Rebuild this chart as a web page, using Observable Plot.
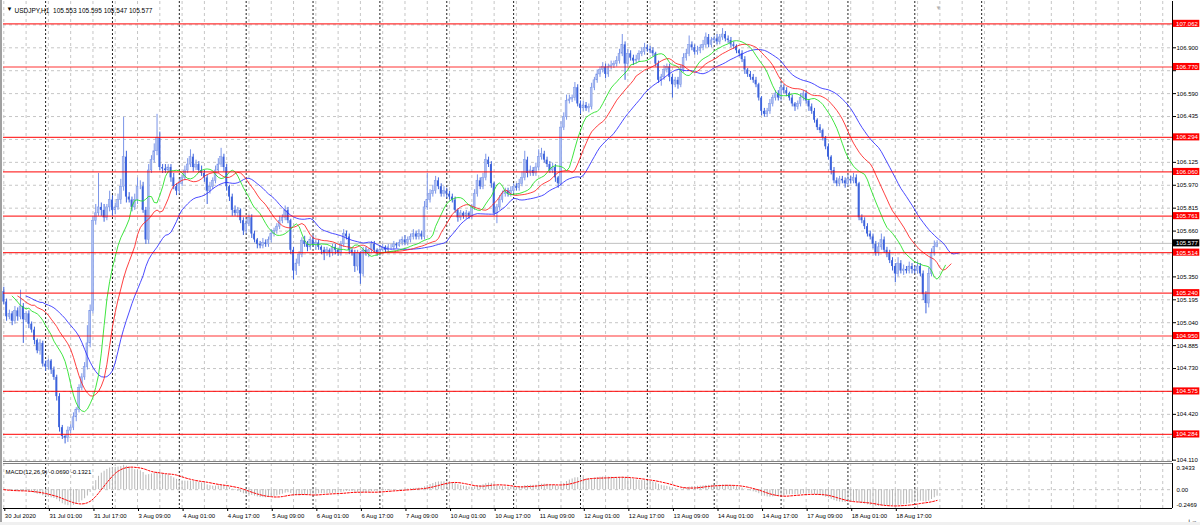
<!DOCTYPE html>
<html><head><meta charset="utf-8">
<script src="https://cdn.jsdelivr.net/npm/d3@7"></script>
<script src="https://cdn.jsdelivr.net/npm/@observablehq/plot@0.6"></script>
<style>
html,body{margin:0;padding:0;background:#fff;}
#wrap{position:relative;width:1200px;height:525px;overflow:hidden;background:#fff;font-family:"Liberation Sans",Arial,sans-serif;}
#main{position:absolute;left:0;top:0;}
#sub{position:absolute;left:0;top:461px;}
#foot{position:absolute;left:0;top:522px;width:1200px;height:3px;background:#f0f0f0;}
#lb{position:absolute;left:0;top:0;width:2px;height:522px;background:#a0a0a0;}
svg{overflow:visible}
</style></head><body><div id="wrap"><div id="main"></div><div id="sub"></div><div id="foot"></div><div id="lb"></div></div>
<script>
// ---------- data ----------
const symbolTitle = "USDJPY,H1";
const headerOHLC = ["105.553", "105.595", "105.547", "105.577"];
const macdTitle = "MACD(12,26,9) -0.0690 -0.1321";
const firstOpen = 105.25;
const closes = [
105.18,105.08,105.10,105.05,105.12,105.08,105.15,105.06,105.10,105.03,
104.99,104.92,104.85,104.90,104.76,104.74,104.78,104.72,104.67,104.54,
104.33,104.27,104.26,104.31,104.33,104.40,104.45,104.60,104.67,104.74,
104.90,105.12,105.73,105.78,105.82,105.80,105.75,105.82,105.87,105.80,
105.82,105.87,105.96,106.16,105.89,105.87,105.82,105.87,105.96,105.96,
105.80,105.60,106.07,106.14,106.20,106.29,106.09,106.08,106.07,106.09,
106.02,105.96,105.93,105.98,106.02,106.07,106.11,106.16,106.09,106.11,
106.07,106.05,106.02,105.93,105.96,106.00,106.07,106.11,106.16,106.09,
105.96,105.89,105.80,105.78,105.80,105.73,105.66,105.71,105.75,105.64,
105.60,105.57,105.56,105.58,105.57,105.60,105.64,105.66,105.69,105.73,
105.75,105.80,105.73,105.53,105.39,105.44,105.50,105.595,105.57,105.55,
105.60,105.57,105.58,105.55,105.53,105.51,105.53,105.51,105.55,105.53,
105.51,105.57,105.64,105.62,105.53,105.51,105.42,105.51,105.37,105.53,
105.51,105.53,105.57,105.53,105.51,105.53,105.55,105.53,105.55,105.55,
105.57,105.56,105.58,105.60,105.58,105.60,105.62,105.64,105.62,105.64,
105.62,105.82,105.87,105.91,105.93,106.00,105.96,105.91,105.93,105.91,
105.89,105.87,105.80,105.75,105.78,105.76,105.78,105.76,105.82,105.91,
106.00,105.96,106.02,106.14,106.11,105.98,105.78,105.82,105.87,105.91,
105.93,105.91,105.93,105.96,105.95,105.98,106.02,106.14,106.05,106.07,
106.05,106.09,106.16,106.18,106.14,106.11,106.07,106.09,106.02,105.98,
106.36,106.43,106.54,106.55,106.56,106.63,106.52,106.49,106.51,106.49,
106.50,106.63,106.68,106.72,106.75,106.77,106.72,106.77,106.78,106.79,
106.81,106.86,106.92,106.79,106.86,106.83,106.81,106.82,106.86,106.87,
106.90,106.89,106.88,106.86,106.79,106.68,106.70,106.75,106.77,106.70,
106.65,106.68,106.65,106.75,106.83,106.86,106.92,106.90,106.87,106.88,
106.90,106.92,106.97,106.92,106.95,106.96,106.94,106.97,106.99,106.96,
106.95,106.92,106.91,106.88,106.86,106.82,106.75,106.72,106.70,106.68,
106.65,106.56,106.47,106.45,106.47,106.52,106.56,106.59,106.56,106.63,
106.61,106.59,106.56,106.52,106.50,106.52,106.56,106.59,106.54,106.50,
106.47,106.41,106.36,106.34,106.29,106.23,106.16,106.07,106.00,105.98,
106.01,106.00,105.98,106.01,106.00,106.02,105.98,105.75,105.73,105.69,
105.64,105.62,105.57,105.51,105.55,105.60,105.53,105.51,105.46,105.42,
105.37,105.44,105.39,105.40,105.39,105.42,105.40,105.39,105.42,105.37,
105.23,105.17,105.37,105.51,105.553,105.577];
// wick lengths above / below the body, in points (0.001)
const upWick = [
30,20,25,15,30,20,110,20,15,20, 15,20,10,25,15,20,15,10,20,15,
20,15,10,25,20,30,15,20,25,30, 120,40,30,60,230,30,40,20,60,30,
30,40,50,270,40,30,20,40,60,40, 30,20,40,30,50,160,40,20,30,20,
20,30,20,30,20,30,40,50,20,30, 20,30,20,20,30,20,30,40,60,20,
20,10,20,30,20,10,20,30,20,20, 20,10,20,30,20,20,30,20,20,30,
20,30,20,10,20,30,20,20,30,20, 20,30,20,20,10,20,20,10,20,20,
10,20,30,20,20,10,20,20,10,20, 20,10,20,20,10,20,20,10,20,20,
20,10,20,20,30,20,20,30,20,30, 20,40,180,30,40,30,20,20,30,20,
20,20,20,10,20,10,20,10,20,30, 40,20,30,40,20,20,10,20,30,20,
20,20,30,20,20,30,40,60,20,30, 20,30,50,40,20,20,20,30,20,10,
40,30,40,30,20,35,20,20,30,20, 20,30,20,30,20,30,20,20,30,20,
30,30,70,20,30,20,20,30,20,30, 30,20,20,20,10,20,20,30,20,20,
20,20,20,30,30,30,60,20,20,30, 20,30,30,20,20,20,30,20,40,20,
20,20,20,10,10,20,20,10,20,20, 20,10,10,20,20,30,20,20,20,30,
20,20,10,20,10,20,30,20,20,10, 20,20,10,20,10,10,20,10,20,20,
20,20,20,30,20,30,20,10,20,20, 20,20,20,20,30,40,20,20,20,20,
20,40,20,30,20,30,20,20,30,20, 20,20,40,30,40,18];
const downWick = [
20,30,20,30,20,30,20,160,20,30, 20,30,20,30,20,30,20,30,20,30,
30,20,40,30,20,20,30,20,20,20, 20,30,20,30,20,40,30,20,30,40,
30,20,30,30,40,20,30,20,30,20, 20,30,30,20,20,30,20,30,20,20,
30,20,30,20,20,20,20,20,30,20, 20,20,30,90,20,20,20,20,20,30,
30,30,40,20,30,20,30,20,20,30, 20,30,20,20,20,20,20,20,20,20,
20,20,20,30,60,30,20,20,20,30, 20,20,40,20,30,50,20,30,20,30,
20,20,20,20,30,20,40,30,70,20, 20,30,20,20,20,20,10,20,20,20,
20,20,10,20,20,20,20,20,20,20, 20,20,20,20,20,20,20,20,20,30,
20,20,20,30,20,20,20,20,20,20, 20,20,20,20,20,30,20,70,20,20,
20,20,20,20,20,20,20,20,30,20, 20,20,20,20,20,20,20,20,30,30,
20,20,20,20,20,20,20,40,20,20, 30,20,20,20,20,20,30,20,20,20,
20,20,20,110,20,20,30,20,20,20, 20,20,20,20,20,20,40,20,20,30,
90,20,30,20,20,20,20,20,20,20, 20,20,20,20,20,20,20,20,20,20,
20,20,20,20,20,20,30,20,20,20, 20,20,30,20,20,20,20,20,20,20,
20,20,20,20,30,20,20,20,20,30, 20,20,20,20,20,20,20,30,20,20,
20,20,30,20,20,20,20,20,20,20, 20,20,30,20,20,20,20,30,20,30,
60,20,20,30,20,20,30,20,20,20, 40,70,30,20,20,6];
const levels = [107.062, 106.770, 106.294, 106.060, 105.761, 105.514, 105.240, 104.950, 104.575, 104.284];
const currentPrice = 105.577;
const priceTicks = [104.110,104.265,104.420,104.575,104.730,104.885,105.040,105.195,105.350,105.505,
  105.660,105.815,105.970,106.125,106.280,106.435,106.590,106.745,106.900,107.055];
const timeLabels = ["30 Jul 2020","31 Jul 01:00","31 Jul 17:00","3 Aug 09:00","4 Aug 01:00","4 Aug 17:00",
  "5 Aug 09:00","6 Aug 01:00","6 Aug 17:00","7 Aug 09:00","10 Aug 01:00","10 Aug 17:00","11 Aug 09:00",
  "12 Aug 01:00","12 Aug 17:00","13 Aug 09:00","14 Aug 01:00","14 Aug 17:00","17 Aug 09:00","18 Aug 01:00","18 Aug 17:00"];
const timeLabelBars = [0,16,32,48,64,80,96,112,128,144,160,176,192,208,224,240,256,272,288,304,320];
const daySeparatorBars = [15,39,63,87,111,135,159,183,207,231,255,279,303,327,351];
const macdScale = [0.3433, -0.2469];
const macdScaleLabels = ["0.3433", "0.00", "-0.2469"];

// ---------- derived ----------
const bars = closes.map((c, i) => {
  const o = i === 0 ? firstOpen : closes[i - 1];
  return {i, o, c, h: Math.max(o, c) + upWick[i] / 1000, l: Math.min(o, c) - downWick[i] / 1000, bull: c >= o};
});
const median = bars.map(b => (b.h + b.l) / 2);
function smma(src, n) { const out = []; let s = src[0]; for (let k = 0; k < src.length; k++) { if (k > 0) s = (s * (n - 1) + src[k]) / n; out.push(s); } return out; }
function ema(src, n) { const a = 2 / (n + 1); const out = []; let e = src[0]; for (let k = 0; k < src.length; k++) { if (k > 0) e = a * src[k] + (1 - a) * e; out.push(e); } return out; }
const gator = [
  {n: 13, shift: 8, color: "#2b2bff"},
  {n: 8, shift: 5, color: "#ff2020"},
  {n: 5, shift: 3, color: "#1ee01e"}
].map(g => ({...g, pts: smma(median, g.n).map((v, i) => ({x: i + g.shift, y: v}))}));
const e12 = ema(closes, 12), e26 = ema(closes, 26);
const macd = closes.map((c, i) => e12[i] - e26[i]);
const macdData = macd.map((m, i) => { const w = macd.slice(Math.max(0, i - 8), i + 1); return {i, m, s: d3.mean(w)}; });

const xDomain = [-0.11, 419.5];
const gridBars = d3.range(0, 420, 8);
const labelMap = new Map(timeLabelBars.map((b, k) => [b, timeLabels[k]]));
const FONT = "Liberation Sans, Arial, sans-serif";
const bullFill = "#aebff0", bullStroke = "#7b95e8", bearFill = "#3d63dc";
const boxH = 0.024;
// price labels hidden behind the level boxes in the reference
const isHidden = t => levels.concat([currentPrice]).some(l => Math.abs(l - t) <= 0.045);
const shownTicks = priceTicks.filter(t => !isHidden(t));
const hiddenTicks = priceTicks.filter(isHidden);

const main = Plot.plot({
  width: 1200, height: 463, marginLeft: 3, marginRight: 28, marginTop: 1, marginBottom: 2,
  x: {domain: xDomain, axis: null},
  y: {domain: [104.101, 107.2133], axis: null},
  style: {fontFamily: FONT, fontSize: "6px", background: "transparent", overflow: "visible"},
  marks: [
    Plot.ruleY(priceTicks, {stroke: "#c6c6c6", strokeDasharray: "3,3"}),
    Plot.ruleX(gridBars, {stroke: "#c6c6c6", strokeDasharray: "3,3"}),
    Plot.ruleX(daySeparatorBars, {stroke: "#202020", strokeDasharray: "2,2"}),
    Plot.ruleY([currentPrice], {stroke: "#c0c0c0"}),
    Plot.ruleX(bars.filter(b => b.bull), {x: "i", y1: "l", y2: "h", stroke: bullStroke}),
    Plot.ruleX(bars.filter(b => !b.bull), {x: "i", y1: "l", y2: "h", stroke: bearFill}),
    Plot.rect(bars.filter(b => b.bull), {x1: d => d.i - 0.33, x2: d => d.i + 0.33, y1: "o", y2: "c", fill: bullFill, stroke: bullStroke, strokeWidth: 0.5}),
    Plot.rect(bars.filter(b => !b.bull), {x1: d => d.i - 0.33, x2: d => d.i + 0.33, y1: "o", y2: "c", fill: bearFill}),
    ...gator.map(g => Plot.line(g.pts, {x: "x", y: "y", stroke: g.color, strokeWidth: 1, strokeOpacity: 0.85})),
    Plot.ruleY(levels, {stroke: "#ff0000", strokeWidth: 1.2, strokeOpacity: 0.8}),
    Plot.ruleX([xDomain[1]], {stroke: "#000"}),
    Plot.ruleY([104.101], {stroke: "#808080"}),
    Plot.axisY(hiddenTicks, {anchor: "right", tickSize: 3, tickFormat: () => ""}),
    Plot.axisY(shownTicks, {anchor: "right", tickSize: 3, tickPadding: 1, tickFormat: d => d.toFixed(3), fontSize: 6, fill: "#000"}),
    Plot.rect(levels, {x1: xDomain[1] + 0.3, x2: 429.3, y1: d => d - boxH, y2: d => d + boxH, fill: "#ff0000"}),
    Plot.text(levels, {x: xDomain[1] + 1.3, y: d => d, text: d => d.toFixed(3), fill: "#fff", textAnchor: "start", fontSize: 6}),
    Plot.rect([currentPrice], {x1: xDomain[1] + 0.3, x2: 429.3, y1: d => d - boxH, y2: d => d + boxH, fill: "#000"}),
    Plot.text([currentPrice], {x: xDomain[1] + 1.3, y: d => d, text: d => d.toFixed(3), fill: "#fff", textAnchor: "start", fontSize: 6}),
    Plot.text(["\u25BC"], {frameAnchor: "top-left", dx: 3, dy: 5, fontSize: 6, fill: "#000", textAnchor: "start"}),
    Plot.text([symbolTitle + "  " + headerOHLC.join(" ")], {frameAnchor: "top-left", dx: 11, dy: 7, fontSize: 6.5, fill: "#000", textAnchor: "start"}),
    Plot.text(["\u25BC"], {x: 335.5, frameAnchor: "top", dy: 4, fontSize: 6, fill: "#b0b0b0"})
  ]
});
document.getElementById("main").appendChild(main);

const sub = Plot.plot({
  width: 1200, height: 64, marginLeft: 3, marginRight: 28, marginTop: 2, marginBottom: 17,
  x: {domain: xDomain, axis: null},
  y: {domain: [macdScale[1], macdScale[0]], axis: null},
  style: {fontFamily: FONT, fontSize: "6px", background: "transparent", overflow: "visible"},
  marks: [
    Plot.ruleX(gridBars, {stroke: "#c6c6c6", strokeDasharray: "3,3"}),
    Plot.ruleX(daySeparatorBars, {stroke: "#202020", strokeDasharray: "2,2"}),
    Plot.ruleY([0], {stroke: "#c6c6c6", strokeDasharray: "3,3"}),
    Plot.ruleX(macdData, {x: "i", y1: 0, y2: d => Math.max(macdScale[1], Math.min(macdScale[0], d.m)), stroke: "#b8b8b8"}),
    Plot.line(macdData, {x: "i", y: d => Math.max(macdScale[1], Math.min(macdScale[0], d.s)), stroke: "#ff0000", strokeDasharray: "2,1.5", strokeWidth: 1}),
    Plot.ruleY([macdScale[0]], {stroke: "#808080"}),
    Plot.ruleY([macdScale[1]], {stroke: "#000"}),
    Plot.ruleX([xDomain[1]], {stroke: "#000"}),
    Plot.axisX(timeLabelBars, {anchor: "bottom", tickSize: 3, tickPadding: 2, tickFormat: d => labelMap.get(d), textAnchor: "start", dx: 1, fontSize: 6, fill: "#000"}),
    Plot.text([macdScaleLabels[0]], {x: xDomain[1], y: macdScale[0], dx: 4, dy: 5, textAnchor: "start", fontSize: 6, fill: "#000"}),
    Plot.text([macdScaleLabels[1]], {x: xDomain[1], y: 0, dx: 4, textAnchor: "start", fontSize: 6, fill: "#000"}),
    Plot.text([macdScaleLabels[2]], {x: xDomain[1], y: macdScale[1], dx: 4, dy: -3, textAnchor: "start", fontSize: 6, fill: "#000"}),
    Plot.text([macdTitle], {frameAnchor: "top-left", dx: 2, dy: 6, textAnchor: "start", fontSize: 6, fill: "#000"})
  ]
});
document.getElementById("sub").appendChild(sub);
</script></body></html>
